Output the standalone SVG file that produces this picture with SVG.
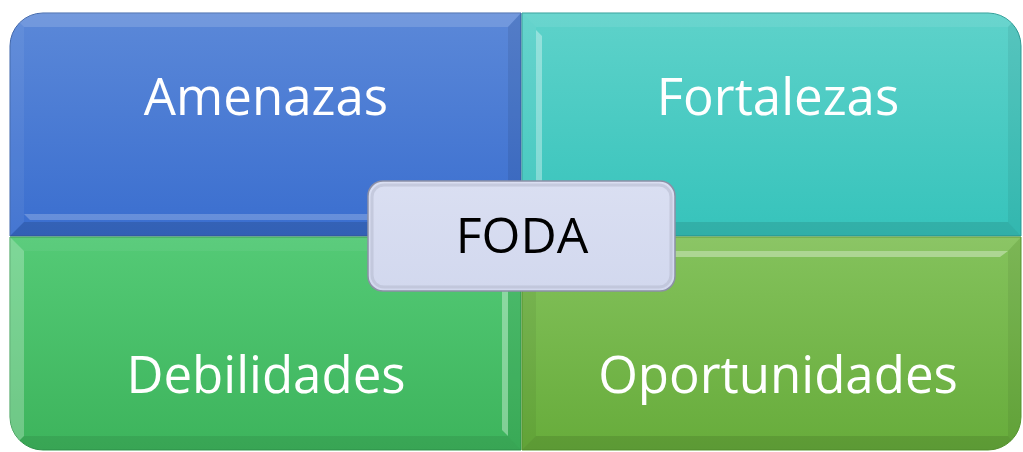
<svg xmlns="http://www.w3.org/2000/svg" width="1023" height="452" viewBox="0 0 1023 452">
<defs>
<style>
.lbl{font-family:"Open Sans","Liberation Sans",sans-serif;font-size:51px;fill:#ffffff;text-anchor:middle}
.ctr{font-family:"Open Sans","Liberation Sans",sans-serif;font-size:50px;fill:#000000;text-anchor:middle}
.hl{fill:#ffffff}
.sh{fill:#000000}
</style>
<linearGradient id="gBlue" x1="0" y1="0" x2="0" y2="1"><stop offset="0" stop-color="#5b88d8"/><stop offset="1" stop-color="#3a6ecf"/></linearGradient>
<linearGradient id="gTeal" x1="0" y1="0" x2="0" y2="1"><stop offset="0" stop-color="#5ed2ca"/><stop offset="1" stop-color="#36c3bb"/></linearGradient>
<linearGradient id="gGreen" x1="0" y1="0" x2="0" y2="1"><stop offset="0" stop-color="#54ca76"/><stop offset="1" stop-color="#3db45c"/></linearGradient>
<linearGradient id="gLime" x1="0" y1="0" x2="0" y2="1"><stop offset="0" stop-color="#84c25c"/><stop offset="1" stop-color="#67ac3b"/></linearGradient>
<linearGradient id="gCenter" x1="0" y1="0" x2="0" y2="1"><stop offset="0" stop-color="#dadff2"/><stop offset="1" stop-color="#d2d8ee"/></linearGradient>
<clipPath id="cA"><path d="M10,46 A33,33 0 0 1 43,13 L521,13 L521,236 L10,236 Z"/></clipPath>
<clipPath id="cF"><path d="M522,13 L988,13 A33,33 0 0 1 1021,46 L1021,236 L522,236 Z"/></clipPath>
<clipPath id="cD"><path d="M10,237 L521,237 L521,450 L43,450 A33,33 0 0 1 10,417 Z"/></clipPath>
<clipPath id="cO"><path d="M522,237 L1021,237 L1021,417 A33,33 0 0 1 988,450 L522,450 Z"/></clipPath>
</defs>
<rect width="1023" height="452" fill="#ffffff"/>

<g id="amenazas">
<path d="M10,46 A33,33 0 0 1 43,13 L521,13 L521,236 L10,236 Z" fill="url(#gBlue)" stroke="#3a62a8" stroke-width="1"/>
<g clip-path="url(#cA)">
<polygon class="hl" points="10,13 521,13 508,27 24,27" opacity="0.15"/>
<polygon class="hl" points="10,13 24,27 24,222 10,236" opacity="0.06"/>
<polygon class="sh" points="521,13 521,236 508,222 508,27" opacity="0.08"/>
<polygon class="sh" points="10,236 521,236 508,222 24,222" opacity="0.12"/>
<polygon class="hl" points="24,214 508,214 508,220 30,220" opacity="0.22"/>
</g>
<text class="lbl" x="266" y="115">Amenazas</text>
</g>

<g id="fortalezas">
<path d="M522,13 L988,13 A33,33 0 0 1 1021,46 L1021,236 L522,236 Z" fill="url(#gTeal)" stroke="#2e9e98" stroke-width="1"/>
<g clip-path="url(#cF)">
<polygon class="hl" points="522,13 1021,13 1008,27 536,27" opacity="0.08"/>
<polygon class="hl" points="522,13 536,27 536,222 522,236" opacity="0.06"/>
<polygon class="hl" points="536,30 542,36 542,222 536,222" opacity="0.35"/>
<polygon class="sh" points="1021,13 1021,236 1008,222 1008,27" opacity="0.06"/>
<polygon class="sh" points="522,236 1021,236 1008,222 536,222" opacity="0.1"/>
</g>
<text class="lbl" x="778" y="115">Fortalezas</text>
</g>

<g id="debilidades">
<path d="M10,237 L521,237 L521,450 L43,450 A33,33 0 0 1 10,417 Z" fill="url(#gGreen)" stroke="#339a4e" stroke-width="1"/>
<g clip-path="url(#cD)">
<polygon class="hl" points="10,237 24,251 24,436 10,450" opacity="0.25"/>
<polygon class="hl" points="10,237 521,237 508,251 24,251" opacity="0.05"/>
<polygon class="sh" points="10,450 521,450 508,436 24,436" opacity="0.08"/>
<polygon class="sh" points="521,237 521,450 508,436 508,251" opacity="0.06"/>
<polygon class="hl" points="502,252 508,252 508,436 502,430" opacity="0.35"/>
</g>
<text class="lbl" x="266" y="393">Debilidades</text>
</g>

<g id="oportunidades">
<path d="M522,237 L1021,237 L1021,417 A33,33 0 0 1 988,450 L522,450 Z" fill="url(#gLime)" stroke="#5a9a32" stroke-width="1"/>
<g clip-path="url(#cO)">
<polygon class="hl" points="522,237 1021,237 1008,251 536,251" opacity="0.06"/>
<polygon class="hl" points="536,251 1008,251 1000,257 536,257" opacity="0.35"/>
<polygon class="sh" points="522,237 536,251 536,436 522,450" opacity="0.05"/>
<polygon class="sh" points="1021,237 1021,450 1008,436 1008,251" opacity="0.06"/>
<polygon class="sh" points="522,450 1021,450 1008,436 536,436" opacity="0.1"/>
</g>
<text class="lbl" x="778" y="393">Oportunidades</text>
</g>

<g id="foda">
<rect x="368" y="181" width="307" height="110" rx="15" fill="url(#gCenter)" stroke="#8c90a6" stroke-width="1.5"/>
<rect x="372" y="185" width="299" height="102" rx="12" fill="none" stroke="#b8bdd0" stroke-width="3" opacity="0.6"/>
<text class="ctr" x="522" y="253">FODA</text>
</g>
</svg>
